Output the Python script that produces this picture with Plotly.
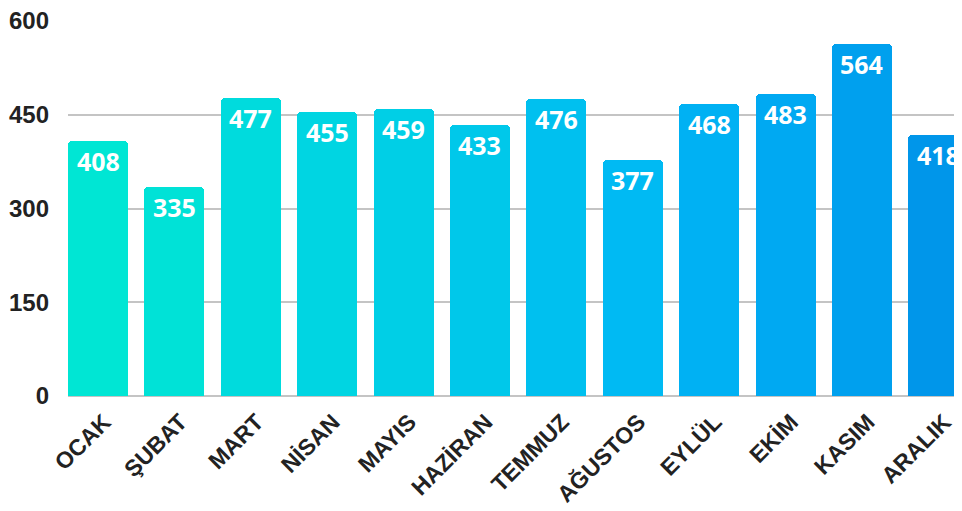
import plotly.graph_objects as go

months = ["OCAK", "ŞUBAT", "MART", "NİSAN", "MAYIS", "HAZİRAN", "TEMMUZ",
          "AĞUSTOS", "EYLÜL", "EKİM", "KASIM", "ARALIK"]
values = [408, 335, 477, 455, 459, 433, 476, 377, 468, 483, 564, 418]
colors = ["#00E6D4", "#00E2D7", "#00DBDD", "#00D5E2", "#00CFE6", "#00C8EA",
          "#00C0EF", "#00BAF3", "#00B1F3", "#00A9F2", "#00A0EE", "#0096EA"]
y_ticks = [0, 150, 300, 450, 600]

xs = list(range(len(months)))

fig = go.Figure()
fig.add_trace(go.Bar(
    x=xs, y=values, width=0.785,
    marker=dict(color=colors, line=dict(width=0), cornerradius=4),
    hoverinfo="skip",
))

for x, v in zip(xs, values):
    fig.add_annotation(x=x, y=v, text=str(v), showarrow=False, yshift=-20,
                       yanchor="middle",
                       font=dict(family="Open Sans", size=25, color="white",
                                 weight="bold"))

fig.update_layout(
    width=962, height=511,
    margin=dict(l=60, r=8, t=13, b=123, autoexpand=False),
    paper_bgcolor="white", plot_bgcolor="white",
    showlegend=False,
    bargap=0,
    xaxis=dict(
        range=[-0.393, 11.31], automargin=False,
        tickmode="array", tickvals=xs, ticktext=months,
        tickangle=-45, showgrid=False, zeroline=False,
        showline=False, ticks="", ticklabelstandoff=7, ticklabelshift=6,
        ticklabeloverflow="allow",
        tickfont=dict(family="Liberation Sans", size=23, color="#222222",
                      weight="bold"),
    ),
    yaxis=dict(
        range=[0, 600], tickvals=y_ticks, automargin=False,
        showgrid=True, gridcolor="#C4C4C4", gridwidth=1.5,
        zeroline=True, zerolinecolor="#C4C4C4", zerolinewidth=2,
        ticks="", ticklabelstandoff=18, ticklabeloverflow="allow",
        tickfont=dict(family="Liberation Sans", size=24, color="#222222",
                      weight="bold"),
    ),
)

fig.write_html("out.html")
